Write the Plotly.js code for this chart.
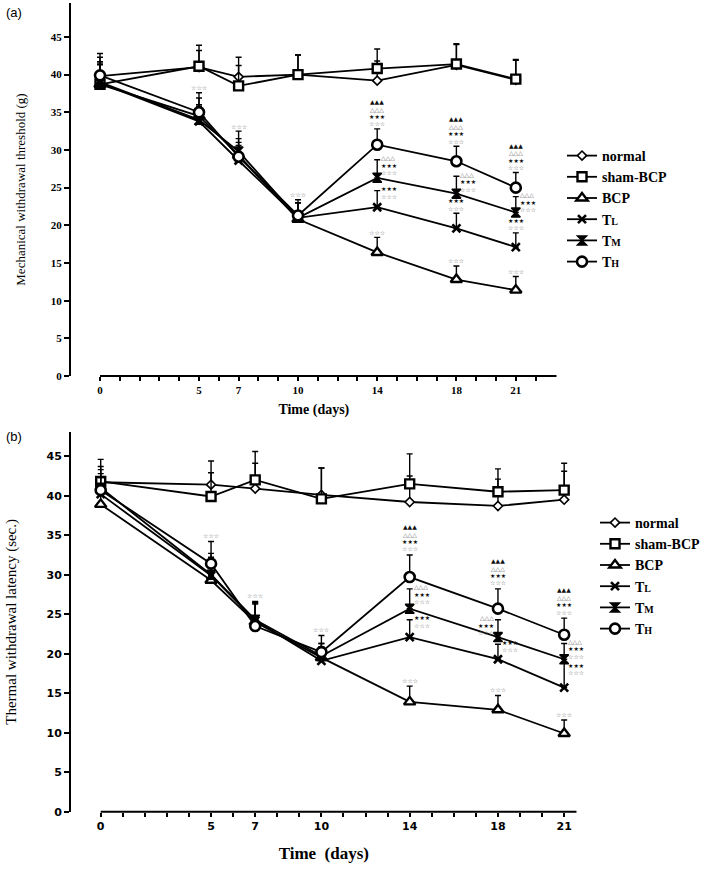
<!DOCTYPE html>
<html><head><meta charset="utf-8">
<script src="https://cdn.plot.ly/plotly-3.0.1.min.js"></script>
<style>html,body{margin:0;padding:0;background:#fff}</style>
</head><body><div id="chart" style="width:724px;height:870px"></div>
<script>
// ---------- data ----------
const days = [0, 5, 7, 10, 14, 18, 21];
const tickDaysA = [0,1,2,3,4,5,6,7,8,9,10,11,12,13,14,15,16,17,18,19,20,21,22];
const tickDaysB = [0,1,2,3,4,5,6,7,8,9,10,11,12,13,14,15,16,17,18,19,20,21];
const groupNames = ['normal', 'sham-BCP', 'BCP',
  'T<span style="font-size:10px">L</span>',
  'T<span style="font-size:10px">M</span>',
  'T<span style="font-size:10px">H</span>'];

// (a) Mechanical withdrawal threshold (g)
const mechNormal    = [39.8, 41.0, 39.7, 40.0, 39.2, 41.3, 39.3];
const mechNormalErr = [2.5, 2.2, 2.6, 2.6, 2.6, 2.7, 2.6];
const mechSham      = [38.7, 41.1, 38.5, 40.0, 40.8, 41.4, 39.4];
const mechShamErr   = [4.1, 2.8, 2.7, 2.6, 2.6, 2.7, 2.6];
const mechBCP       = [38.7, 34.5, 29.3, 20.8, 16.4, 12.8, 11.4];
const mechBCPErr    = [2.6, 2.4, 1.7, 2.2, 2.0, 1.8, 1.8];
const mechTL        = [38.9, 33.8, 28.6, 21.0, 22.4, 19.6, 17.1];
const mechTLErr     = [2.8, 2.0, 2.0, 2.0, 2.2, 2.0, 1.9];
const mechTM        = [39.0, 34.0, 29.8, 21.0, 26.3, 24.2, 21.7];
const mechTMErr     = [2.4, 2.0, 2.7, 2.0, 2.4, 2.3, 2.1];
const mechTH        = [39.9, 35.0, 29.1, 21.3, 30.7, 28.5, 25.0];
const mechTHErr     = [1.8, 2.6, 2.4, 2.1, 2.1, 2.0, 2.0];

// (b) Thermal withdrawal latency (sec.)
const thermNormal    = [41.7, 41.4, 40.9, 40.1, 39.2, 38.7, 39.5];
const thermNormalErr = [2.0, 3.0, 3.2, 3.4, 3.3, 3.4, 3.6];
const thermSham      = [41.8, 39.9, 42.0, 39.6, 41.5, 40.5, 40.7];
const thermShamErr   = [2.8, 3.0, 3.6, 3.9, 3.8, 2.9, 3.4];
const thermBCP       = [38.9, 29.3, 24.0, 19.5, 13.9, 12.9, 9.9];
const thermBCPErr    = [2.2, 2.3, 2.4, 1.8, 2.0, 1.8, 1.7];
const thermTL        = [40.2, 29.9, 24.2, 19.1, 22.1, 19.3, 15.7];
const thermTLErr     = [2.1, 2.3, 2.3, 1.8, 2.2, 1.9, 3.2];
const thermTM        = [41.0, 30.0, 24.3, 19.7, 25.7, 22.1, 19.3];
const thermTMErr     = [2.3, 2.7, 2.3, 1.6, 2.5, 2.2, 2.0];
const thermTH        = [40.7, 31.4, 23.5, 20.2, 29.7, 25.7, 22.4];
const thermTHErr     = [2.1, 2.8, 2.8, 2.1, 2.8, 2.5, 2.1];

// significance marks: [series index (-1 = treated groups), day, rows bottom->top, side, extra px shift]
// w = ☆☆☆, b = ★★★, c = △△△, t = ▲▲▲
const sigA = [
  [-1, 5, 'w', 'top', 0], [-1, 7, 'w', 'top', 0], [-1, 10, 'w', 'top', 0],
  [5, 14, 'wbct', 'top', 0], [4, 14, 'wbc', 'right', 0], [3, 14, 'wb', 'right', 0], [2, 14, 'w', 'top', 0],
  [5, 18, 'wbct', 'top', 0], [4, 18, 'wbc', 'right', 0], [3, 18, 'wb', 'top', 0], [2, 18, 'w', 'top', 0],
  [5, 21, 'wbct', 'top', 0], [4, 21, 'wbc', 'right', 0], [3, 21, 'wb', 'top', 0], [2, 21, 'w', 'top', 0]
];
const sigB = [
  [-1, 5, 'w', 'top', 0], [-1, 7, 'w', 'top', 0], [-1, 10, 'w', 'top', 0],
  [5, 14, 'wbct', 'top', 0], [4, 14, 'wbc', 'right', 0], [3, 14, 'wb', 'right', 0], [2, 14, 'w', 'top', 0],
  [5, 18, 'wbct', 'top', 0], [4, 18, 'wbc', 'left', 0], [3, 18, 'wb', 'right', 0], [2, 18, 'w', 'top', 0],
  [5, 21, 'wbct', 'top', 0], [4, 21, 'wbc', 'right', 0], [3, 21, 'wb', 'right', -5], [2, 21, 'w', 'top', 0]
];

// ---------- styling ----------
const W = 724, H = 870;
const styles = [
  {symbol: 'diamond', size: 7, lw: 1.6},
  {symbol: 'square', size: 9, lw: 2.4},
  {symbol: 'triangle-up', size: 10, lw: 2.4},
  {symbol: 'x-thin', size: 8, lw: 2.6},
  {symbol: 'hourglass', size: 9, lw: 1.5},
  {symbol: 'circle', size: 10, lw: 2.6}
];
const rowGlyph = {
  w: {t: '☆☆☆', c: '#7a7a7a'},
  b: {t: '★★★', c: '#111'},
  c: {t: '△△△', c: '#555'},
  t: {t: '▲▲▲', c: '#111'}
};

const setsA = [[mechNormal, mechNormalErr], [mechSham, mechShamErr], [mechBCP, mechBCPErr],
               [mechTL, mechTLErr], [mechTM, mechTMErr], [mechTH, mechTHErr]];
const setsB = [[thermNormal, thermNormalErr], [thermSham, thermShamErr], [thermBCP, thermBCPErr],
               [thermTL, thermTLErr], [thermTM, thermTMErr], [thermTH, thermTHErr]];

function makeTraces(sets, xa, ya, legendId) {
  return sets.map((s, i) => {
    const st = styles[i];
    const filled = st.symbol === 'hourglass' || st.symbol === 'x-thin';
    return {
      type: 'scatter', mode: 'lines+markers', x: days, y: s[0],
      xaxis: xa, yaxis: ya, name: groupNames[i], legend: legendId,
      line: {color: '#000', width: 1.8},
      marker: {symbol: st.symbol, size: st.size,
               color: filled ? '#000' : '#fff',
               line: {color: '#000', width: st.lw}},
      error_y: {type: 'data', symmetric: false, array: s[1],
                arrayminus: s[1].map(() => 0), color: '#000', thickness: 1.4, width: 3},
      cliponaxis: false, hoverinfo: 'skip'
    };
  });
}

function sigAnnots(spec, sets, xref, yref, step, base) {
  const out = [];
  spec.forEach(([si, day, rows, side, extra]) => {
    const di = days.indexOf(day);
    let cap;
    if (si < 0) {
      cap = Math.max(...[2, 3, 4, 5].map(k => sets[k][0][di] + sets[k][1][di]));
    } else {
      cap = sets[si][0][di] + sets[si][1][di];
    }
    const n = rows.length;
    rows.split('').forEach((r, k) => {
      const g = rowGlyph[r];
      const a = {xref, yref, x: day, y: cap, text: g.t, showarrow: false,
                 font: {family: 'DejaVu Sans', size: 6, color: g.c}, yanchor: 'middle',
                 borderpad: 0};
      if (side === 'top') {
        a.xanchor = 'center';
        a.yshift = base + k * step + extra;
      } else {
        a.xanchor = side === 'right' ? 'left' : 'right';
        a.xshift = side === 'right' ? 3 : -3;
        a.yshift = -(n - 1 - k) * step + 2 + extra;
      }
      out.push(a);
    });
  });
  return out;
}

// geometry (pixels)
const pxA = {left: 71, right: 556.7, top: 3, bottom: 376, x0: 100, perDay: 19.8};
const pxB = {left: 71, right: 576.7, top: 432, bottom: 811.7, x0: 100.7, perDay: 22.07};
function xr(p) { return [-(p.x0 - p.left) / p.perDay, (p.right - p.x0) / p.perDay]; }
const domA = {x: [pxA.left / W, pxA.right / W], y: [1 - pxA.bottom / H, 1 - pxA.top / H]};
const domB = {x: [pxB.left / W, pxB.right / W], y: [1 - pxB.bottom / H, 1 - pxB.top / H]};
const xrA = xr(pxA), xrB = xr(pxB);

const serifBold = {family: 'Liberation Serif', size: 11, color: '#000', weight: 'bold'};
const sansBold = {family: 'DejaVu Sans', size: 11, color: '#000', weight: 'bold'};

function xAxis(dom, range, tv, font, title, tfont, standoff, anchor) {
  return {domain: dom, range, anchor, tickmode: 'array', tickvals: tv,
          ticktext: tv.map(v => days.includes(v) ? String(v) : ''),
          ticks: 'outside', ticklen: 4, tickwidth: 2, tickcolor: '#000',
          showline: false, showgrid: false, zeroline: false, tickfont: font,
          title: {text: title, font: tfont, standoff}};
}
function yAxis(dom, range, font, title, tfont, standoff, anchor) {
  return {domain: dom, range, anchor, tickmode: 'linear', tick0: 0, dtick: 5,
          ticks: 'outside', ticklen: 5, tickwidth: 2, tickcolor: '#000',
          showline: true, linewidth: 2, linecolor: '#000', showgrid: false, zeroline: false,
          tickfont: font, title: {text: title, font: tfont, standoff}};
}

const traces = makeTraces(setsA, 'x', 'y', 'legend').concat(makeTraces(setsB, 'x2', 'y2', 'legend2'));

const layout = {
  width: W, height: H, margin: {l: 0, r: 0, t: 0, b: 0},
  paper_bgcolor: '#fff', plot_bgcolor: 'rgba(0,0,0,0)', showlegend: true,
  xaxis: xAxis(domA.x, xrA, tickDaysA, serifBold, 'Time (days)',
               {family: 'Liberation Serif', size: 14, color: '#000', weight: 'bold'}, 8, 'y'),
  yaxis: yAxis(domA.y, [0, (pxA.bottom - pxA.top) / 7.535], serifBold,
               'Mechanical withdrawal threshold (g)',
               {family: 'Liberation Serif', size: 13, color: '#000'}, 22, 'x'),
  xaxis2: xAxis(domB.x, xrB, tickDaysB, sansBold, 'Time\u00a0\u00a0(days)',
               {family: 'Liberation Serif', size: 17, color: '#000', weight: 'bold'}, 15, 'y2'),
  yaxis2: yAxis(domB.y, [0, (pxB.bottom - pxB.top) / 7.9], sansBold,
               'Thermal withdrawal latency (sec.)',
               {family: 'Liberation Serif', size: 15, color: '#000'}, 26, 'x2'),
  legend: {x: 562 / W, y: 1 - 140 / H, xanchor: 'left', yanchor: 'top',
           font: {family: 'Liberation Serif', size: 14, color: '#000', weight: 'bold'},
           bgcolor: 'rgba(0,0,0,0)', itemwidth: 30, tracegroupgap: 0},
  legend2: {x: 595 / W, y: 1 - 507 / H, xanchor: 'left', yanchor: 'top',
           font: {family: 'Liberation Serif', size: 14, color: '#000', weight: 'bold'},
           bgcolor: 'rgba(0,0,0,0)', itemwidth: 30, tracegroupgap: 0},
  shapes: [
    {type: 'line', xref: 'x', yref: 'paper', x0: 0, x1: xrA[1], y0: domA.y[0], y1: domA.y[0],
     line: {color: '#000', width: 2}},
    {type: 'line', xref: 'x2', yref: 'paper', x0: 0, x1: xrB[1], y0: domB.y[0], y1: domB.y[0],
     line: {color: '#000', width: 2}}
  ],
  annotations: [
    {xref: 'paper', yref: 'paper', x: 4 / W, y: 1 - 3 / H, xanchor: 'left', yanchor: 'top',
     text: '(a)', showarrow: false, font: {family: 'Liberation Sans', size: 13, color: '#000'}},
    {xref: 'paper', yref: 'paper', x: 4 / W, y: 1 - 427 / H, xanchor: 'left', yanchor: 'top',
     text: '(b)', showarrow: false, font: {family: 'Liberation Sans', size: 13, color: '#000'}}
  ].concat(sigAnnots(sigA, setsA, 'x', 'y', 7.4, 5), sigAnnots(sigB, setsB, 'x2', 'y2', 7.4, 6))
};

Plotly.newPlot('chart', traces, layout, {staticPlot: true, displayModeBar: false});
</script></body></html>
